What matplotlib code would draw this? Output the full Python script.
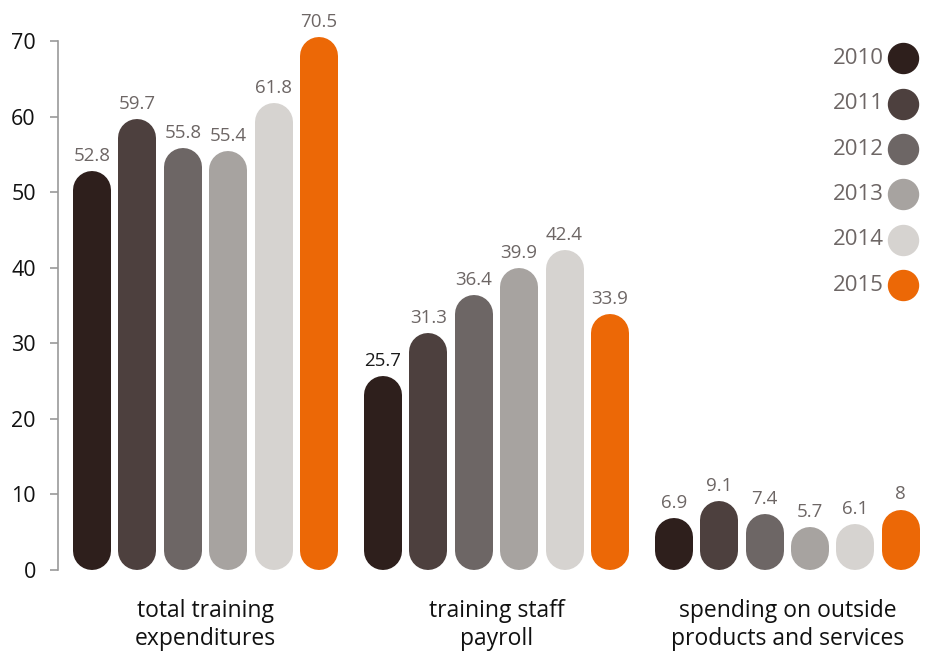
import matplotlib.pyplot as plt
import numpy as np

years = ['2010', '2011', '2012', '2013', '2014', '2015']
categories = ['total training\nexpenditures', 'training staff\npayroll',
              'spending on outside\nproducts and services']
total_training = [52.8, 59.7, 55.8, 55.4, 61.8, 70.5]
staff_payroll = [25.7, 31.3, 36.4, 39.9, 42.4, 33.9]
outside_spending = [6.9, 9.1, 7.4, 5.7, 6.1, 8]
colors = ['#2e1f1c', '#4d403e', '#6d6665', '#a7a3a0', '#d6d3d0', '#ec6806']

series = [total_training, staff_payroll, outside_spending]

plt.rcParams['font.family'] = ['Open Sans', 'DejaVu Sans']

fig = plt.figure(figsize=(9.25, 6.51), dpi=100)
ax = fig.add_axes([58 / 925, 81 / 651, 867 / 925, 529 / 651])
ax.set_xlim(-0.507, 2.473)
ax.set_ylim(0, 70)

bar_px = 38
step = 0.156
offsets = (np.arange(6) - 2.5) * step
# radius of the round caps in data units
r = (bar_px / 2) * 70 / 529

for g, vals in enumerate(series):
    for i, v in enumerate(vals):
        x = g + offsets[i]
        lo = r
        hi = max(v - r, lo + 0.001)
        ax.plot([x, x], [lo, hi], color=colors[i], lw=bar_px * 0.72,
                solid_capstyle='round', clip_on=False)
        lab_col = '#1a1a1a' if (g == 1 and i == 0) else '#6d6665'
        ax.text(x, v + 0.8, f'{v:g}', ha='center', va='bottom',
                fontsize=13.5, color=lab_col)
    ax.text(g, -3.9, categories[g], ha='center', va='top', fontsize=16.5,
            color='#111111', linespacing=1.2)

# legend on the right
for i, yr in enumerate(years):
    yy = 67.7 - i * 6.0
    ax.scatter([2.398], [yy], s=(30 * 0.72) ** 2, color=colors[i],
               clip_on=False, zorder=3)
    ax.text(2.33, yy, yr, ha='right', va='center', fontsize=16,
            color='#6d6665')

for s in ['top', 'right', 'bottom']:
    ax.spines[s].set_visible(False)
ax.spines['left'].set_color('#999999')
ax.spines['left'].set_linewidth(1.2)
ax.set_xticks([])
ax.set_yticks(range(0, 71, 10))
ax.tick_params(axis='y', length=6, width=1.2, color='#999999',
               labelsize=15.5, labelcolor='#111111', pad=10)

fig.savefig('out.png', dpi=100)
